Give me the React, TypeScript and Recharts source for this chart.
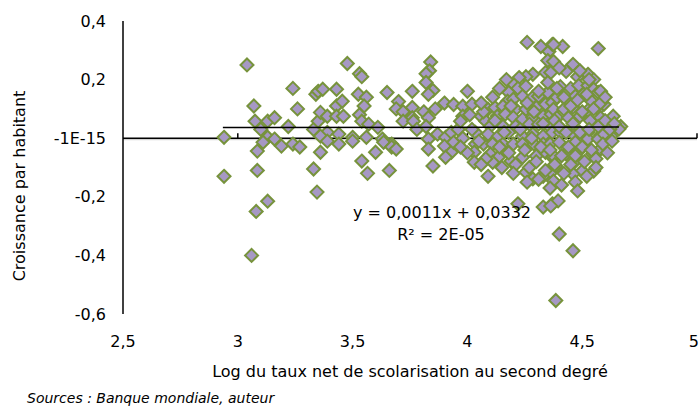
import { ScatterChart, Scatter, XAxis, YAxis, ReferenceLine } from "recharts";

const FONT = "Verdana, 'DejaVu Sans', sans-serif";

const xTicks = [2.5, 3, 3.5, 4, 4.5, 5];
const yTicks = [-0.6, -0.4, -0.2, 0, 0.2, 0.4];

// points, par zone
const leftPoints = [
  [2.94, 0.003], [2.94, -0.13], [3.04, 0.25], [3.07, 0.11], [3.075, 0.058], [3.1, 0.03],
  [3.13, 0.058], [3.16, 0.07], [3.22, 0.04], [3.24, 0.17], [3.26, 0.1], [3.13, 0.003],
  [3.16, -0.003], [3.19, -0.027], [3.24, -0.02], [3.27, -0.03], [3.085, -0.044], [3.085, -0.11],
  [3.11, -0.014], [3.06, -0.4], [3.08, -0.25], [3.13, -0.215], [3.33, 0.03], [3.35, 0.058],
  [3.36, 0.088], [3.34, 0.15], [3.35, 0.16], [3.37, 0.167], [3.43, 0.167], [3.43, 0.11],
  [3.455, 0.126], [3.39, 0.075], [3.43, 0.075], [3.39, 0.02], [3.44, 0.014], [3.36, 0.007],
  [3.39, -0.01], [3.36, -0.048], [3.33, -0.105], [3.345, -0.184], [3.44, -0.02],
];

const middlePoints = [
  [3.477, 0.255], [3.53, 0.22], [3.54, 0.21], [3.525, 0.15], [3.56, 0.14], [3.65, 0.156],
  [3.76, 0.16], [3.84, 0.26], [3.835, 0.23], [3.82, 0.22], [3.82, 0.19], [3.85, 0.163],
  [3.83, 0.15], [3.46, 0.075], [3.55, 0.11], [3.53, 0.08], [3.7, 0.125], [3.69, 0.1],
  [3.72, 0.09], [3.76, 0.105], [3.76, 0.07], [3.81, 0.09], [3.83, 0.07], [3.86, 0.1],
  [3.9, 0.12], [3.94, 0.115], [3.54, 0.058], [3.57, 0.048], [3.61, 0.037], [3.72, 0.058],
  [3.765, 0.058], [3.78, 0.03], [3.82, 0.04], [3.5, 0.003], [3.56, 0.003], [3.63, -0.003],
  [3.67, -0.02], [3.83, -0.003], [3.87, 0.014], [3.905, 0.003], [3.93, 0.02], [3.96, 0.03],
  [3.5, -0.01], [3.635, -0.014], [3.67, -0.03], [3.69, -0.037], [3.6, -0.048], [3.54, -0.078],
  [3.565, -0.12], [3.66, -0.11], [3.83, -0.037], [3.9, -0.027], [3.93, -0.048], [3.905, -0.065],
  [3.85, -0.095], [3.94, -0.014],
];

const densePoints = [
  [4.26, 0.327], [4.32, 0.313], [4.355, 0.296], [4.37, 0.32], [4.35, 0.265], [4.34, 0.224],
  [4.0, 0.16], [4.285, 0.218], [4.255, 0.21], [4.225, 0.207], [4.2, 0.184], [4.22, 0.17],
  [4.255, 0.177], [4.18, 0.156], [4.175, 0.126], [4.2, 0.133], [4.24, 0.143], [4.285, 0.14],
  [4.31, 0.143], [4.35, 0.156], [3.98, 0.109], [4.02, 0.116], [4.09, 0.099], [4.12, 0.105],
  [4.155, 0.109], [4.21, 0.099], [4.255, 0.099], [4.3, 0.105], [4.34, 0.116], [4.37, 0.122],
  [4.06, 0.075], [4.08, 0.058], [4.13, 0.075], [4.165, 0.082], [4.2, 0.071], [4.24, 0.065],
  [4.285, 0.071], [4.33, 0.075], [4.365, 0.082], [3.98, 0.075], [3.97, 0.058], [4.1, 0.041],
  [4.155, 0.041], [4.21, 0.041], [4.27, 0.048], [4.31, 0.048], [4.355, 0.041],
  [4.035, 0.02], [4.09, 0.014], [4.135, 0.007], [4.18, 0.02], [4.24, 0.007], [4.285, 0.014],
  [4.33, 0.007], [4.37, 0.02], [4.035, -0.02], [4.07, -0.02], [4.11, -0.02], [4.155, -0.02],
  [4.2, -0.02], [4.24, -0.02], [4.29, -0.02], [4.33, -0.02], [4.36, -0.02],
  [4.03, -0.048], [4.1, -0.054], [4.135, -0.065], [4.19, -0.078], [4.24, -0.065], [4.3, -0.061],
  [4.34, -0.048], [4.37, -0.065], [4.03, -0.082], [4.11, -0.082], [4.09, -0.13],
  [4.255, -0.116], [4.285, -0.139], [4.33, -0.13], [4.365, -0.116],
  [4.415, 0.313], [4.375, 0.32], [4.57, 0.306], [4.375, 0.262], [4.363, 0.224], [4.46, 0.252],
  [4.43, 0.228], [4.48, 0.21], [4.525, 0.218], [4.55, 0.2], [4.405, 0.176], [4.45, 0.17],
  [4.485, 0.18], [4.525, 0.18], [4.55, 0.167], [4.39, 0.14], [4.43, 0.13], [4.47, 0.143],
  [4.505, 0.15], [4.535, 0.13], [4.57, 0.156], [4.375, 0.099], [4.42, 0.099], [4.46, 0.105],
  [4.525, 0.095], [4.57, 0.099], [4.595, 0.116], [4.39, 0.07], [4.44, 0.07], [4.49, 0.075],
  [4.535, 0.06], [4.58, 0.07], [4.635, 0.075], [4.668, 0.04], [4.405, 0.02], [4.46, 0.014],
  [4.525, 0.02], [4.58, 0.01], [4.625, 0.007], [4.66, 0.031],
  [4.4, -0.014], [4.47, -0.014], [4.525, -0.003], [4.57, -0.003], [4.595, 0.014],
  [4.375, -0.061], [4.43, -0.054], [4.48, -0.048], [4.545, -0.054], [4.58, -0.037],
  [4.385, -0.095], [4.465, -0.082], [4.5, -0.112], [4.55, -0.112], [4.375, -0.146], [4.46, -0.122],
  [4.02, 0.03], [4.05, -0.01], [4.07, 0.09], [4.12, 0.06], [4.14, -0.03], [4.16, 0.02],
  [4.18, -0.05], [4.19, 0.11], [4.21, -0.09], [4.23, 0.03], [4.25, -0.04], [4.26, 0.12],
  [4.27, -0.1], [4.28, 0.0], [4.29, 0.09], [4.3, -0.08], [4.31, 0.16], [4.32, -0.03],
  [4.33, 0.05], [4.34, -0.11], [4.35, 0.19], [4.36, -0.04], [4.38, 0.06], [4.38, -0.09],
  [4.39, 0.17], [4.4, 0.04], [4.41, -0.06], [4.42, 0.14], [4.42, -0.12], [4.43, 0.02],
  [4.44, -0.03], [4.45, 0.11], [4.45, -0.09], [4.46, 0.05], [4.47, -0.06], [4.48, 0.13],
  [4.49, 0.02], [4.5, -0.03], [4.5, 0.09], [4.51, -0.08], [4.52, 0.15], [4.53, 0.03],
  [4.54, -0.04], [4.55, 0.1], [4.56, -0.07], [4.57, 0.04], [4.58, 0.12], [4.59, -0.02],
  [4.6, 0.06], [4.61, -0.05], [4.62, 0.03], [4.63, -0.01], [4.64, 0.05], [4.56, -0.1],
  [4.52, -0.13], [4.47, -0.15], [4.41, -0.16], [4.36, -0.17], [4.31, -0.14], [4.26, -0.15],
  [4.2, -0.12], [4.15, -0.1], [4.08, -0.07], [4.06, -0.09], [4.0, -0.05], [3.98, 0.0],
  [3.97, -0.03], [4.01, 0.08], [4.06, 0.12], [4.11, 0.14], [4.14, 0.17], [4.17, 0.2],
  [4.4, 0.24], [4.49, 0.23], [4.53, 0.2], [4.58, 0.16], [4.6, 0.14],
];

const outliers = [
  [4.22, -0.224], [4.33, -0.235], [4.37, -0.224], [4.48, -0.18], [4.395, -0.214],
  [4.363, -0.231], [4.4, -0.327], [4.46, -0.384], [4.385, -0.554],
];

// droite de tendance y = 0,0011x + 0,0332
const trendLine = [
  { x: 2.935, y: 0.0364 },
  { x: 4.66, y: 0.0383 },
];

const toPts = (arr: number[][]) => arr.map(([x, y]) => ({ x, y }));
const allPoints = [...leftPoints, ...middlePoints, ...densePoints, ...outliers];

const fmtX = (v: number) => String(v).replace(".", ",");
const fmtY = (v: number) => (v === 0 ? "-1E-15" : String(v).replace(".", ","));

const Diamond = (props: any) => {
  const { cx, cy } = props;
  if (cx == null || cy == null) return null;
  const r = 6.5;
  return (
    <polygon
      points={`${cx},${cy - r} ${cx + r},${cy} ${cx},${cy + r} ${cx - r},${cy}`}
      fill="#a698c4"
      stroke="#77933c"
      strokeWidth={2}
    />
  );
};

// le dernier libellé touche le bord droit : on l'aligne à droite pour qu'il reste entier
const XTick = (props: any) => {
  const { x, y, payload } = props;
  const last = payload.value === xTicks[xTicks.length - 1];
  return (
    <text
      x={last ? x + 2 : x}
      y={y}
      dy="0.71em"
      textAnchor={last ? "end" : "middle"}
      fill="#000"
      fontSize={16}
      fontFamily={FONT}
    >
      {fmtX(payload.value)}
    </text>
  );
};

// axe horizontal qui passe par zéro, avec ses graduations
const ZeroAxis = (p: any) => {
  const { x1, y1, x2 } = p;
  const span = x2 - x1;
  const lo = xTicks[0];
  const hi = xTicks[xTicks.length - 1];
  return (
    <g>
      <line x1={x1} y1={y1 + 1.5} x2={x2} y2={y1 + 1.5} stroke="#c8c8c8" strokeWidth={1} />
      <line x1={x1} y1={y1} x2={x2} y2={y1} stroke="#000" strokeWidth={1.5} />
      {xTicks.slice(1).map((t) => {
        const x = x1 + ((t - lo) / (hi - lo)) * span;
        return <line key={t} x1={x} x2={x} y1={y1} y2={y1 - 5} stroke="#000" strokeWidth={1.5} />;
      })}
    </g>
  );
};

const txt = { position: "absolute" as const, fontFamily: FONT, fontSize: 16, color: "#000", whiteSpace: "nowrap" as const, lineHeight: 1 };

export default function App() {
  return (
    <div style={{ position: "absolute", left: 0, top: 0, width: 700, height: 406, background: "#fff" }}>
      <ScatterChart width={700} height={406} margin={{ top: 21, right: 3, bottom: 0, left: 0 }}>
        <XAxis
          type="number"
          dataKey="x"
          domain={[2.5, 5]}
          ticks={xTicks}
          interval={0}
          axisLine={false}
          tickLine={false}
          tickSize={0}
          tickMargin={22}
          height={92}
          tick={XTick}
        />
        <YAxis
          type="number"
          dataKey="y"
          domain={[-0.6, 0.4]}
          ticks={yTicks}
          interval={0}
          tickFormatter={fmtY}
          axisLine={{ stroke: "#000", strokeWidth: 1.5 }}
          tickLine={false}
          tickSize={0}
          tickMargin={17}
          width={123}
          tick={{ fill: "#000", fontSize: 16, fontFamily: FONT }}
        />
        <ReferenceLine y={0} shape={ZeroAxis} />
        <Scatter data={toPts(allPoints)} shape={Diamond} isAnimationActive={false} />
        <Scatter
          data={trendLine}
          line={{ stroke: "#000", strokeWidth: 1.5 }}
          shape={() => <g />}
          isAnimationActive={false}
        />
      </ScatterChart>
      <div style={{ ...txt, left: 20, top: 186, transform: "translate(-50%, -50%) rotate(-90deg)" }}>
        Croissance par habitant
      </div>
      <div style={{ ...txt, left: 410, top: 372, transform: "translate(-50%, -50%)" }}>
        Log du taux net de scolarisation au second degré
      </div>
      <div style={{ ...txt, left: 442, top: 213, transform: "translate(-50%, -50%)" }}>
        y = 0,0011x + 0,0332
      </div>
      <div style={{ ...txt, left: 441, top: 235, transform: "translate(-50%, -50%)" }}>
        R² = 2E-05
      </div>
      <div style={{ ...txt, left: 27, top: 398, fontSize: 14, fontStyle: "italic", transform: "translateY(-50%)" }}>
        Sources : Banque mondiale, auteur
      </div>
    </div>
  );
}
